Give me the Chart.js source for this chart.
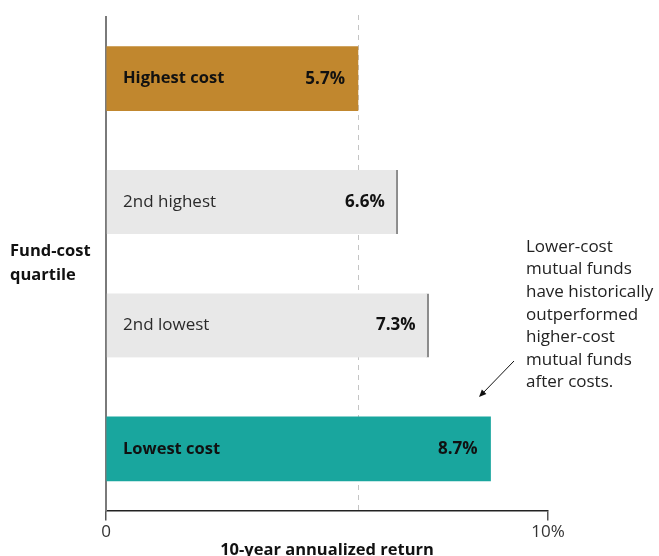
<!DOCTYPE html>
<html>
<head>
<meta charset="utf-8">
<script src="https://cdn.jsdelivr.net/npm/chart.js@4"></script>
<style>
  html, body { margin: 0; padding: 0; background: #fff; }
  #wrap { width: 659px; height: 556px; position: relative; }
</style>
</head>
<body>
<div id="wrap"><canvas id="c" width="659" height="556"></canvas></div>
<script>
const categories = ["Highest cost", "2nd highest", "2nd lowest", "Lowest cost"];
const returns = [5.7, 6.6, 7.3, 8.7];
const barColors = ["#C1872E", "#E8E8E8", "#E8E8E8", "#19A69E"];
const boldCategory = [true, false, false, true];
const xTicks = [0, 10];
const xTickLabels = ["0", "10%"];
const yAxisTitle = ["Fund-cost", "quartile"];
const xAxisTitle = "10-year annualized return";
const note = ["Lower-cost", "mutual funds", "have historically", "outperformed", "higher-cost", "mutual funds", "after costs."];

const FONT = "'Open Sans', 'Noto Sans', sans-serif";

const overlay = {
  id: 'overlay',
  beforeDatasetsDraw(chart) {
    const { ctx, chartArea, scales } = chart;
    const x = scales.x.getPixelForValue(returns[0]);
    ctx.save();
    ctx.strokeStyle = '#c4c4c4';
    ctx.lineWidth = 1;
    ctx.setLineDash([5, 5]);
    ctx.beginPath();
    ctx.moveTo(Math.round(x) + 0.5, chartArea.top - 2);
    ctx.lineTo(Math.round(x) + 0.5, chartArea.bottom);
    ctx.stroke();
    ctx.restore();
  },
  afterDatasetsDraw(chart) {
    const { ctx, chartArea } = chart;
    const meta = chart.getDatasetMeta(0);
    ctx.save();
    ctx.textBaseline = 'middle';
    meta.data.forEach((bar, i) => {
      ctx.fillStyle = boldCategory[i] ? '#111' : '#2a2a2a';
      ctx.font = boldCategory[i] ? ('bold 16.5px ' + FONT) : ('17px ' + FONT);
      ctx.textAlign = 'left';
      ctx.fillText(categories[i], chartArea.left + 17, bar.y);
      ctx.font = 'bold 17px ' + FONT;
      ctx.fillStyle = '#111';
      ctx.textAlign = 'right';
      ctx.fillText(returns[i].toFixed(1) + '%', bar.x - 13, bar.y);
    });
    // y-axis title
    ctx.textAlign = 'left';
    ctx.font = 'bold 16.5px ' + FONT;
    ctx.fillStyle = '#111';
    yAxisTitle.forEach((t, i) => ctx.fillText(t, 10, 251 + i * 24));
    // note
    ctx.font = '17px ' + FONT;
    ctx.fillStyle = '#222';
    note.forEach((t, i) => ctx.fillText(t, 526, 247 + i * 22.6));
    // arrow
    ctx.strokeStyle = '#111';
    ctx.fillStyle = '#111';
    ctx.lineWidth = 1;
    const x1 = 514, y1 = 361, x2 = 479, y2 = 397;
    ctx.beginPath();
    ctx.moveTo(x1, y1);
    ctx.lineTo(x2 + 3, y2 - 3);
    ctx.stroke();
    const ang = Math.atan2(y2 - y1, x2 - x1);
    ctx.beginPath();
    ctx.moveTo(x2, y2);
    ctx.lineTo(x2 - 8 * Math.cos(ang - 0.4), y2 - 8 * Math.sin(ang - 0.4));
    ctx.lineTo(x2 - 8 * Math.cos(ang + 0.4), y2 - 8 * Math.sin(ang + 0.4));
    ctx.closePath();
    ctx.fill();
    ctx.restore();
  }
};

new Chart(document.getElementById('c'), {
  type: 'bar',
  data: {
    labels: categories,
    datasets: [{
      data: returns,
      backgroundColor: barColors,
      borderColor: ['rgba(0,0,0,0)', '#8c8c8c', '#8c8c8c', 'rgba(0,0,0,0)'],
      borderWidth: returns.map((v, i) => boldCategory[i] ? 0 : { top: 0, right: 2, bottom: 0, left: 0 }),
      borderSkipped: false,
      barThickness: 64
    }]
  },
  options: {
    indexAxis: 'y',
    responsive: false,
    animation: false,
    devicePixelRatio: 1,
    layout: { padding: { left: 106, right: 111, top: 17, bottom: -3 } },
    plugins: { legend: { display: false }, tooltip: { enabled: false } },
    scales: {
      x: {
        min: 0, max: 10,
        afterBuildTicks: (axis) => { axis.ticks = xTicks.map(v => ({ value: v })); },
        ticks: {
          callback: (v) => xTickLabels[xTicks.indexOf(v)],
          font: { family: FONT, size: 17, lineHeight: 1 },
          color: '#333',
          padding: 3,
          maxRotation: 0,
          autoSkip: false
        },
        grid: { drawOnChartArea: false, drawTicks: true, tickLength: 10, color: '#555', lineWidth: 1.5 },
        border: { display: true, color: '#222', width: 1.5 },
        title: {
          display: true, text: xAxisTitle,
          font: { family: FONT, size: 16.5, weight: 'bold', lineHeight: 1 },
          color: '#111',
          padding: { top: -1, bottom: 0 }
        }
      },
      y: {
        ticks: { display: false },
        grid: { display: false, drawTicks: false },
        border: { display: true, color: '#7a7a7a', width: 2 }
      }
    }
  },
  plugins: [overlay]
});
</script>
</body>
</html>
